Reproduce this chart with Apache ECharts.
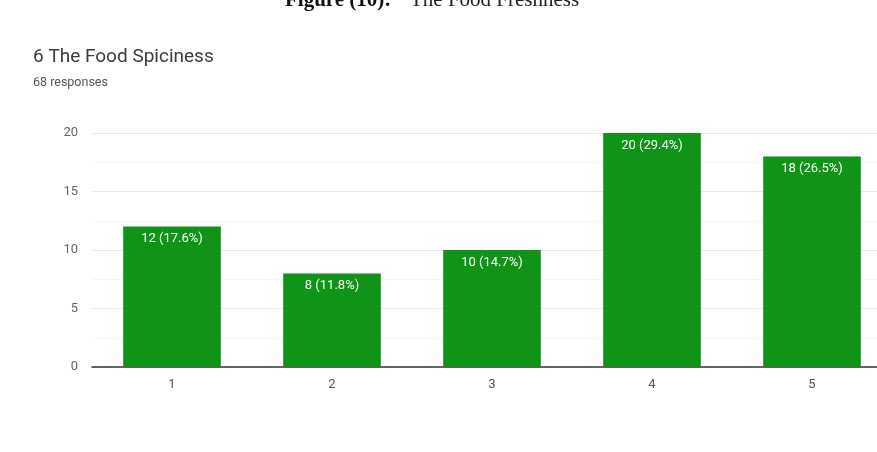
<!DOCTYPE html>
<html>
<head>
<meta charset="utf-8">
<script src="https://cdn.jsdelivr.net/npm/echarts@6/dist/echarts.min.js"></script>
<style>
  html, body { margin: 0; padding: 0; background: #fff; }
  #chart { width: 877px; height: 452px; }
</style>
</head>
<body>
<div id="chart"></div>
<script>
// Survey question 6: rating counts per score
const categories = ['1', '2', '3', '4', '5'];
const counts = [12, 8, 10, 20, 18];
const percents = ['17.6%', '11.8%', '14.7%', '29.4%', '26.5%'];
const yTicks = [0, 5, 10, 15, 20];

const chart = echarts.init(document.getElementById('chart'));
chart.setOption({
  backgroundColor: '#ffffff',
  animation: false,
  graphic: [
    {
      type: 'text', x: 285, y: -10,
      style: { text: 'Figure (10):', font: 'bold 21px "Liberation Serif"', fill: '#111' }
    },
    {
      type: 'text', x: 410, y: -10,
      style: { text: 'The Food Freshness', font: '21px "Liberation Serif"', fill: '#222' }
    },
    {
      type: 'text', x: 33, y: 48,
      style: { text: '6 The Food Spiciness', font: '19px Roboto', fill: '#3c3c3c' }
    },
    {
      type: 'text', x: 33, y: 76,
      style: { text: '68 responses', font: '12.5px Roboto', fill: '#555' }
    }
  ],
  grid: { left: 92, width: 800, top: 133, bottom: 85, outerBoundsMode: 'none', containLabel: false },
  xAxis: {
    type: 'category',
    data: categories,
    axisTick: { show: false },
    axisLine: { lineStyle: { color: '#333', width: 1.5 } },
    axisLabel: { color: '#555', fontSize: 13, fontFamily: 'Roboto', margin: 11 }
  },
  yAxis: {
    type: 'value',
    min: yTicks[0],
    max: yTicks[yTicks.length - 1],
    interval: 5,
    axisLine: { show: false },
    axisTick: { show: false },
    axisLabel: { color: '#666', fontSize: 13, fontFamily: 'Roboto', margin: 14 },
    splitLine: { lineStyle: { color: '#e8e8e8' } },
    minorTick: { show: false, splitNumber: 2 },
    minorSplitLine: { show: true, lineStyle: { color: '#f5f5f5' } }
  },
  series: [{
    type: 'bar',
    data: counts,
    barWidth: '61%',
    itemStyle: { color: '#109418' },
    label: {
      show: true,
      position: 'insideTop',
      distance: 6,
      color: '#ffffff',
      fontSize: 13,
      fontFamily: 'Roboto',
      formatter: p => p.value + ' (' + percents[p.dataIndex] + ')'
    }
  }]
});
</script>
</body>
</html>
